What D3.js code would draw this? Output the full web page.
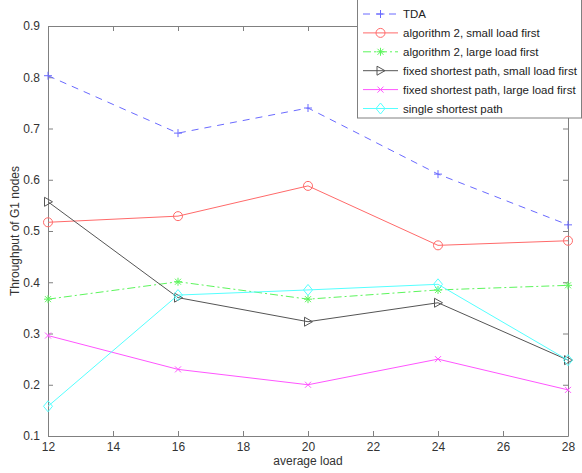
<!DOCTYPE html>
<html>
<head>
<meta charset="utf-8">
<script src="https://cdn.jsdelivr.net/npm/d3@7"></script>
<style>
  body { margin: 0; background: #fff; }
  svg { font-family: "Liberation Sans", Arial, sans-serif; }
</style>
</head>
<body>
<div id="chart"></div>
<script>
// data
const loads = [12, 16, 20, 24, 28];
const tda = [0.803, 0.691, 0.740, 0.611, 0.512];
const alg2Small = [0.517, 0.529, 0.588, 0.472, 0.481];
const alg2Large = [0.367, 0.401, 0.367, 0.385, 0.394];
const fixedSmall = [0.557, 0.370, 0.323, 0.360, 0.248];
const fixedLarge = [0.296, 0.230, 0.200, 0.250, 0.190];
const singlePath = [0.158, 0.375, 0.385, 0.396, 0.248];

const xTicks = [12, 14, 16, 18, 20, 22, 24, 26, 28];
const yTicks = [0.1, 0.2, 0.3, 0.4, 0.5, 0.6, 0.7, 0.8, 0.9];

const series = [
  {name: 'TDA', values: tda, color: '#6a6aff', dash: '7,6', marker: 'plus'},
  {name: 'algorithm 2, small load first', values: alg2Small, color: '#ff6a6a', dash: null, marker: 'circle'},
  {name: 'algorithm 2, large load first', values: alg2Large, color: '#5cf55c', dash: '8,3,2,3', marker: 'star'},
  {name: 'fixed shortest path, small load first', values: fixedSmall, color: '#555555', dash: null, marker: 'triangle'},
  {name: 'fixed shortest path, large load first', values: fixedLarge, color: '#ff55ff', dash: null, marker: 'cross'},
  {name: 'single shortest path', values: singlePath, color: '#55ffff', dash: null, marker: 'diamond'}
];

const width = 582, height = 473;
const margin = {top: 26, right: 14, bottom: 37, left: 48};
const axisColor = '#808080', textColor = '#333';

const svg = d3.select('#chart').append('svg')
  .attr('width', width)
  .attr('height', height);

const x = d3.scaleLinear().domain([12, 28]).range([margin.left, width - margin.right]);
const y = d3.scaleLinear().domain([0.1, 0.9]).range([height - margin.bottom, margin.top]);

// axes (matlab style: ticks inward, box on)
function styleAxis(g) {
  g.select('.domain').attr('stroke', axisColor);
  g.selectAll('.tick line').attr('stroke', axisColor);
  g.selectAll('.tick text').attr('fill', textColor).style('font-size', '12px');
}

svg.append('g')
  .attr('transform', `translate(0,${y(0.1)})`)
  .call(d3.axisBottom(x).tickValues(xTicks).tickSizeInner(-5).tickSizeOuter(0).tickPadding(8))
  .call(styleAxis)
  .selectAll('.tick text').attr('dy', '0.55em');

svg.append('g')
  .attr('transform', `translate(0,${y(0.9)})`)
  .call(d3.axisTop(x).tickValues(xTicks).tickSizeInner(-5).tickSizeOuter(0).tickFormat(''))
  .call(styleAxis);

svg.append('g')
  .attr('transform', `translate(${x(12)},0)`)
  .call(d3.axisLeft(y).tickValues(yTicks).tickSizeInner(-5).tickSizeOuter(0).tickPadding(8).tickFormat(d3.format('.1f')))
  .call(styleAxis);

svg.append('g')
  .attr('transform', `translate(${x(28)},0)`)
  .call(d3.axisRight(y).tickValues(yTicks).tickSizeInner(-5).tickSizeOuter(0).tickFormat(''))
  .call(styleAxis);

// axis titles
svg.append('text')
  .attr('x', (x(12) + x(28)) / 2)
  .attr('y', 465)
  .attr('text-anchor', 'middle')
  .attr('fill', textColor)
  .style('font-size', '12px')
  .text('average load');

svg.append('text')
  .attr('transform', `translate(19,${(y(0.1) + y(0.9)) / 2}) rotate(-90)`)
  .attr('text-anchor', 'middle')
  .attr('fill', textColor)
  .style('font-size', '12px')
  .text('Throughput of G1 nodes');

// markers
function drawMarker(g, type, color) {
  const s = 4;
  const m = g.append('g').attr('fill', 'none').attr('stroke', color).attr('stroke-width', 1);
  if (type === 'plus') {
    m.append('path').attr('d', `M${-s},0H${s}M0,${-s}V${s}`);
  } else if (type === 'circle') {
    m.append('circle').attr('r', s + 0.5);
  } else if (type === 'star') {
    m.append('path').attr('d', `M${-s},0H${s}M0,${-s}V${s}M-3,-3L3,3M-3,3L3,-3`);
  } else if (type === 'triangle') {
    m.append('path').attr('d', `M-3.5,-4.5L4.5,0L-3.5,4.5Z`);
  } else if (type === 'cross') {
    m.append('path').attr('d', `M-3,-3L3,3M-3,3L3,-3`);
  } else if (type === 'diamond') {
    m.append('path').attr('d', `M0,-5.5L4.5,0L0,5.5L-4.5,0Z`);
  }
  return m;
}

const line = d3.line()
  .x((d, i) => x(loads[i]))
  .y(d => y(d));

const plot = svg.append('g').classed('series', true);

series.forEach(s => {
  plot.append('path')
    .datum(s.values)
    .attr('d', line)
    .attr('fill', 'none')
    .attr('stroke', s.color)
    .attr('stroke-width', 1)
    .attr('stroke-dasharray', s.dash);
  s.values.forEach((v, i) => {
    drawMarker(plot, s.marker, s.color)
      .attr('transform', `translate(${x(loads[i])},${y(v)})`);
  });
});

// legend box in the top-right corner
const legend = svg.append('g').attr('transform', 'translate(357,0)');
legend.append('rect')
  .attr('x', 0.5).attr('y', -1)
  .attr('width', 224).attr('height', 119)
  .attr('fill', '#fff')
  .attr('stroke', axisColor);

series.forEach((s, i) => {
  const ly = 14 + i * 18.9;
  legend.append('line')
    .attr('x1', 6).attr('x2', 41)
    .attr('y1', ly).attr('y2', ly)
    .attr('stroke', s.color)
    .attr('stroke-dasharray', s.dash);
  drawMarker(legend, s.marker, s.color)
    .attr('transform', `translate(23.5,${ly})`);
  legend.append('text')
    .attr('x', 46)
    .attr('y', ly)
    .attr('dy', '0.35em')
    .attr('fill', '#222')
    .style('font-size', '11.5px')
    .text(s.name);
});
</script>
</body>
</html>
